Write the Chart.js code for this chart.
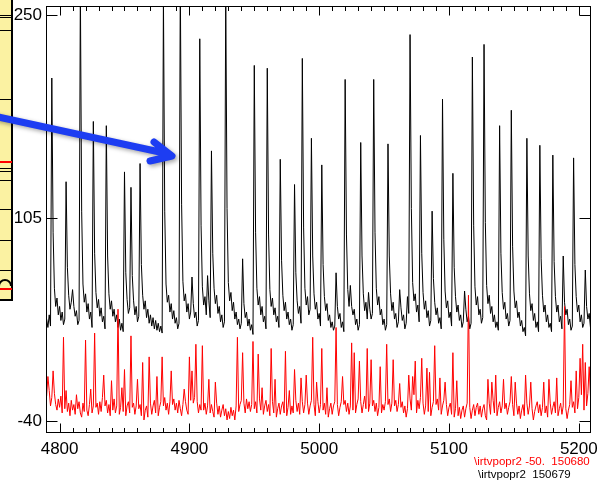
<!DOCTYPE html>
<html>
<head>
<meta charset="utf-8">
<script src="https://cdn.jsdelivr.net/npm/chart.js@4.4.1/dist/chart.umd.min.js"></script>
<style>
  html, body { margin: 0; padding: 0; background: #fff; }
  #wrap { width: 604px; height: 483px; }
</style>
</head>
<body>
<div id="wrap"><canvas id="trace" width="604" height="483"></canvas></div>
<script>
// axis ticks
const xTicks = [4800, 4900, 5000, 5100, 5200];
const yTicks = [250, 105, -40];

// both traces are sampled once per time unit starting here
const sampleStart = 4790;

// black trace (150679): background level incl. decay tails, one row per 10 units
const blackBase = [
  33, 27, 36, 28, 26, 95, 55, 42, 48, 36,    // 4790
  42, 32, 38, 29, 33, 25, 70, 50, 40, 45,    // 4800
  33, 42, 35, 39, 29, 32, 24, 110, 58, 45,   // 4810
  51, 38, 44, 33, 38, 27, 25, 80, 52, 41,    // 4820
  47, 35, 41, 31, 35, 26, 27, 78, 51, 40,    // 4830
  46, 35, 40, 31, 36, 27, 33, 25, 30, 24,    // 4840
  26, 66, 47, 37, 41, 30, 64, 46, 36, 42,    // 4850
  31, 35, 27, 72, 50, 40, 46, 34, 40, 30,    // 4860
  36, 28, 34, 26, 32, 25, 30, 24, 28, 23,    // 4870
  24, 110, 58, 45, 50, 38, 44, 33, 39, 30,   // 4880
  34, 26, 30, 24, 115, 60, 46, 51, 38, 44,   // 4890
  33, 38, 29, 44, 34, 38, 28, 32, 24, 100,   // 4900
  56, 43, 49, 36, 40, 46, 34, 39, 80, 55,    // 4910
  44, 50, 37, 42, 31, 36, 27, 31, 24, 112,   // 4920
  59, 46, 52, 39, 45, 33, 38, 29, 33, 26,    // 4930
  30, 23, 44, 34, 38, 28, 33, 25, 29, 22,    // 4940
  22, 95, 55, 43, 49, 36, 42, 31, 35, 26,    // 4950
  25, 93, 54, 42, 48, 36, 41, 31, 35, 27,    // 4960
  26, 75, 50, 39, 45, 33, 38, 29, 33, 25,    // 4970
  29, 26, 66, 46, 37, 42, 30, 27, 98, 55,    // 4980
  43, 49, 36, 40, 27, 78, 51, 40, 45, 33,    // 4990
  37, 28, 26, 72, 49, 39, 44, 32, 36, 27,    // 5000
  31, 25, 28, 22, 42, 33, 37, 27, 31, 24,    // 5010
  23, 93, 54, 42, 48, 42, 36, 40, 29, 33,    // 5020
  25, 29, 25, 78, 51, 39, 45, 33, 37, 40,    // 5030
  33, 37, 28, 95, 55, 43, 49, 36, 40, 29,    // 5040
  33, 25, 29, 23, 78, 51, 39, 45, 33, 37,    // 5050
  27, 31, 25, 41, 32, 36, 26, 30, 23, 37,    // 5060
  32, 112, 59, 46, 51, 38, 43, 31, 28, 80,   // 5070
  52, 40, 46, 34, 39, 28, 32, 25, 62, 45,    // 5080
  36, 41, 30, 34, 26, 25, 90, 53, 41, 46,    // 5090
  34, 38, 28, 28, 70, 49, 38, 43, 32, 36,    // 5100
  27, 31, 25, 40, 31, 35, 26, 30, 24, 100,   // 5110
  56, 43, 49, 36, 40, 30, 34, 25, 102, 57,   // 5120
  44, 50, 37, 42, 31, 36, 27, 31, 25, 24,    // 5130
  80, 52, 40, 45, 33, 37, 28, 32, 25, 85,    // 5140
  53, 41, 46, 34, 38, 28, 32, 24, 27, 21,    // 5150
  22, 78, 51, 39, 44, 32, 37, 27, 31, 24,    // 5160
  23, 76, 50, 38, 43, 31, 36, 27, 30, 24,    // 5170
  24, 74, 49, 38, 43, 31, 35, 26, 30, 45,    // 5180
  36, 40, 29, 33, 25, 28, 23, 72, 49, 38,    // 5190
  43, 31, 36, 27, 30, 25, 42, 33, 37, 27, 30 // 5200
];
// black spikes: time and peak value
const blackPeakAt = [4794, 4805, 4810, 4816, 4826, 4836, 4850, 4855, 4862, 4880,
  4893, 4902, 4908, 4914, 4917, 4928, 4941, 4950, 4960, 4970, 4981, 4987, 4994,
  5002, 5013, 5020, 5024, 5032, 5038, 5042, 5053, 5062, 5068, 5070, 5078, 5087,
  5095, 5103, 5112, 5118, 5127, 5139, 5148, 5160, 5170, 5180, 5188, 5196, 5205];
const blackPeakVal = [205, 131, 54, 270, 174, 171, 138, 127, 144, 262,
  275, 63, 233, 64, 153, 265, 76, 214, 212, 147, 129, 219, 162,
  143, 66, 204, 57, 159, 52, 204, 158, 54, 49, 236, 164, 110,
  190, 137, 53, 220, 229, 171, 182, 162, 157, 150, 78, 148, 68];

// red trace (150680, offset -50)
const redBase = [
  -22, -27, -18, -29, -23, -31, -20, -28, -32, -24,  // 4790
  -30, -22, -34, -26, -31, -18, -33, -27, -36, -25,  // 4800
  -32, -28, -35, -21, -31, -26, -34, -37, -27, -33,  // 4810
  -24, -32, -36, -28, -17, -34, -29, -38, -30, -27,  // 4820
  -35, -26, -33, -23, -37, -29, -25, -34, -28, -36,  // 4830
  -27, -32, -24, -34, -29, -26, -35, -30, -16, -33,  // 4840
  -28, -36, -29, -26, -34, -38, -30, -27, -35, -29,  // 4850
  -37, -31, -28, -36, -30, -39, -32, -29, -37, -31,  // 4860
  -27, -35, -29, -25, -34, -28, -36, -30, -26, -34,  // 4870
  -29, -23, -32, -27, -35, -26, -33, -28, -24, -32,  // 4880
  -27, -34, -25, -31, -36, -28, -17, -26, -32, -35,  // 4890
  -28, -25, -33, -27, -23, -31, -26, -34, -28, -32,  // 4900
  -25, -32, -27, -35, -29, -26, -34, -28, -33, -37,  // 4910
  -30, -27, -35, -29, -37, -32, -28, -36, -31, -39,  // 4920
  -33, -38, -30, -36, -32, -39, -29, -26, -33, -28,  // 4930
  -25, -32, -27, -34, -24, -31, -26, -33, -28, -23,  // 4940
  -31, -26, -34, -28, -24, -32, -16, -35, -29, -25,  // 4950
  -33, -28, -36, -30, -26, -34, -29, -37, -31, -27,  // 4960
  -35, -29, -26, -34, -28, -36, -30, -18, -35, -29,  // 4970
  -34, -28, -25, -33, -27, -35, -29, -26, -34, -28,  // 4980
  -32, -27, -35, -29, -25, -33, -28, -36, -30, -26,  // 4990
  -34, -28, -24, -32, -27, -35, -29, -37, -31, -27,  // 5000
  -35, -29, -26, -34, -28, -36, -30, -26, -34, -28,  // 5010
  -25, -33, -27, -35, -29, -23, -32, -26, -34, -28,  // 5020
  -24, -32, -26, -34, -28, -22, -31, -25, -33, -27,  // 5030
  -35, -29, -25, -33, -27, -36, -30, -26, -34, -28,  // 5040
  -32, -26, -34, -28, -24, -33, -27, -35, -29, -25,  // 5050
  -33, -28, -36, -30, -26, -34, -29, -37, -31, -27,  // 5060
  -24, -32, -26, -21, -30, -34, -25, -31, -23, -32,  // 5070
  -27, -35, -29, -25, -33, -27, -36, -30, -26, -34,  // 5080
  -28, -24, -32, -27, -35, -29, -25, -33, -28, -36,  // 5090
  -30, -27, -35, -29, -37, -31, -28, -36, -30, -38,  // 5100
  -32, -29, -37, -31, -27, -35, -30, -38, -32, -28,  // 5110
  -36, -30, -27, -35, -29, -37, -31, -28, -36, -39,  // 5120
  -31, -27, -35, -29, -25, -34, -28, -36, -30, -26,  // 5130
  -34, -29, -37, -31, -27, -35, -30, -26, -34, -28,  // 5140
  -36, -30, -27, -35, -29, -38, -32, -28, -36, -30,  // 5150
  -27, -35, -29, -37, -31, -39, -33, -29, -26, -34,  // 5160
  -28, -36, -30, -26, -34, -29, -37, -31, -27, -35,  // 5170
  -30, -26, -34, -28, -36, -31, -27, -35, -29, -37,  // 5180
  -31, -38, -32, -28, -36, -30, -26, -34, -25, -31,  // 5190
  -23, -30, -21, -28, -32, -24, -29, -20, -27, -22, -28 // 5200
];
const redPeakAt = [4791, 4795, 4803, 4820, 4827, 4834, 4840, 4845, 4850, 4855,
  4860, 4864, 4869, 4875, 4879, 4886, 4900, 4902, 4905, 4910, 4915, 4920, 4937,
  4941, 4949, 4953, 4963, 4966, 4974, 4981, 4986, 4990, 4995, 4998, 5002, 5006,
  5013, 5018, 5025, 5027, 5031, 5037, 5040, 5047, 5052, 5057, 5062, 5069, 5072,
  5074, 5079, 5083, 5085, 5089, 5093, 5097, 5103, 5106, 5115, 5130, 5133, 5136,
  5142, 5148, 5151, 5159, 5163, 5173, 5177, 5183, 5189, 5194, 5198, 5201, 5203,
  5205, 5208];
const redPeakVal = [-8, -4, 20, 18, 23, -7, -11, 40, -3, 21,
  -10, 2, 6, -8, 6, -4, 6, -4, 15, 14, -10, -12, 20,
  9, 17, 8, 12, -10, 10, -3, -9, -7, 20, -12, 12, -16,
  27, -8, 16, 9, 3, 12, 4, -1, 15, 4, -13, -7, -8,
  3, 5, -2, -5, 14, -9, -12, 9, -11, 50, -10, -12, -7,
  -10, -8, -12, -7, -12, -12, -10, -9, 42, -11, -4, 5, 15,
  2, -1];

const runLabels = ['\\irtvpopr2 -50.  150680', '\\irtvpopr2  150679'];
const runColors = ['#ff0000', '#000000'];

function buildSeries(base, peakAt, peakVal) {
  const pts = base.map((v, i) => ({ x: sampleStart + i, y: v }));
  peakAt.forEach((t, k) => { pts[t - sampleStart].y = peakVal[k]; });
  return pts;
}

const FONT = '"Liberation Sans", Arial, Helvetica, sans-serif';

// box with inward ticks on all four sides
const framePlugin = {
  id: 'frame',
  afterDatasetsDraw(chart) {
    const { ctx, chartArea: a, scales } = chart;
    const L = Math.round(a.left) - 0.5, R = Math.round(a.right) - 0.5;
    const T = Math.round(a.top) + 0.5, B = Math.round(a.bottom) + 0.5;
    ctx.save();
    ctx.strokeStyle = '#000';
    ctx.lineWidth = 1;
    ctx.strokeRect(L, T, R - L, B - T);
    ctx.beginPath();
    for (let v = 4800; v <= 5200; v += 10) {
      const px = Math.round(scales.x.getPixelForValue(v)) + 0.5;
      const len = xTicks.includes(v) ? 9 : 4.5;
      ctx.moveTo(px, B); ctx.lineTo(px, B - len);
      ctx.moveTo(px, T); ctx.lineTo(px, T + len);
    }
    yTicks.forEach(v => {
      const py = Math.round(scales.y.getPixelForValue(v)) + 0.5;
      ctx.moveTo(L, py); ctx.lineTo(L + 11, py);
      ctx.moveTo(R, py); ctx.lineTo(R - 11, py);
    });
    ctx.stroke();
    ctx.restore();
  }
};

// cropped neighbour panel on the left, the blue arrow, and run labels
const extrasPlugin = {
  id: 'extras',
  afterDraw(chart) {
    const { ctx } = chart;
    ctx.save();
    // yellow strip
    ctx.fillStyle = '#fbf2a2';
    ctx.fillRect(0, 0, 12, 300);
    ctx.strokeStyle = '#000';
    ctx.lineWidth = 1;
    ctx.beginPath();
    [15.5, 17.5, 30.5, 99.5, 168.5, 171.5, 180.5, 209.5, 240.5, 270.5].forEach(y => {
      ctx.moveTo(0, y); ctx.lineTo(12, y);
    });
    ctx.stroke();
    ctx.lineWidth = 2;
    ctx.beginPath();
    ctx.moveTo(12, 0); ctx.lineTo(12, 300); ctx.lineTo(0, 300);
    ctx.stroke();
    ctx.beginPath();
    ctx.arc(5, 286, 6, Math.PI, 0);
    ctx.stroke();
    ctx.strokeStyle = '#ff0000';
    ctx.beginPath();
    ctx.moveTo(0, 162); ctx.lineTo(12, 162);
    ctx.moveTo(0, 289); ctx.lineTo(12, 289);
    ctx.stroke();

    // arrow
    ctx.strokeStyle = '#1d3df2';
    ctx.lineWidth = 7;
    ctx.lineCap = 'round';
    ctx.lineJoin = 'round';
    ctx.shadowColor = 'rgba(0,0,0,0.35)';
    ctx.shadowBlur = 4;
    ctx.shadowOffsetX = 2;
    ctx.shadowOffsetY = 2;
    ctx.beginPath();
    ctx.moveTo(-6, 116);
    ctx.lineTo(169, 154);
    ctx.moveTo(154, 142);
    ctx.lineTo(172, 156);
    ctx.lineTo(150, 161);
    ctx.stroke();
    ctx.restore();

    // run labels
    ctx.save();
    ctx.font = '11.5px ' + FONT;
    ctx.textBaseline = 'middle';
    ctx.textAlign = 'left';
    ctx.fillStyle = runColors[0];
    ctx.fillText(runLabels[0], 474, 462);
    ctx.fillStyle = runColors[1];
    ctx.fillText(runLabels[1], 478, 475);
    ctx.restore();
  }
};

new Chart(document.getElementById('trace'), {
  type: 'line',
  data: {
    datasets: [
      { label: runLabels[0], data: buildSeries(redBase, redPeakAt, redPeakVal),
        borderColor: runColors[0], borderWidth: 1, pointRadius: 0, tension: 0 },
      { label: runLabels[1], data: buildSeries(blackBase, blackPeakAt, blackPeakVal),
        borderColor: runColors[1], borderWidth: 1, pointRadius: 0, tension: 0 }
    ]
  },
  options: {
    responsive: false,
    animation: false,
    devicePixelRatio: 1,
    layout: { padding: { top: 6, right: 13, left: 0, bottom: 0 } },
    plugins: { legend: { display: false }, tooltip: { enabled: false } },
    scales: {
      x: {
        type: 'linear',
        min: 4790.3,
        max: 5209.4,
        grid: { display: false, drawTicks: false },
        border: { display: false },
        ticks: { color: '#000', font: { family: FONT, size: 17 }, padding: 7,
                 maxRotation: 0, autoSkip: false, callback: v => String(v) },
        afterBuildTicks: s => { s.ticks = xTicks.map(v => ({ value: v })); },
        afterFit: s => { s.height = 51; s.paddingLeft = 0; s.paddingRight = 0; }
      },
      y: {
        type: 'linear',
        min: -47.6,
        max: 256.4,
        grid: { display: false, drawTicks: false },
        border: { display: false },
        ticks: { color: '#000', font: { family: FONT, size: 17 }, padding: 5,
                 callback: v => String(v) },
        afterBuildTicks: s => { s.ticks = yTicks.map(v => ({ value: v })); },
        afterFit: s => { s.width = 47; s.paddingTop = 0; s.paddingBottom = 0; }
      }
    }
  },
  plugins: [framePlugin, extrasPlugin]
});
</script>
</body>
</html>
